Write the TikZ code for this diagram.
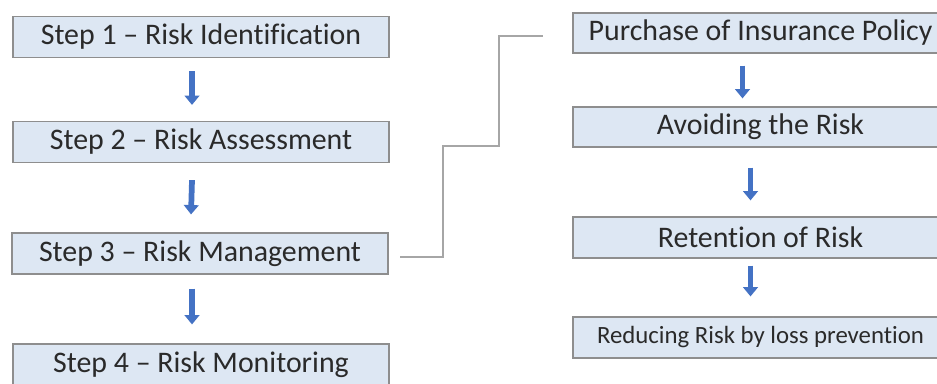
\documentclass[tikz,border=0pt]{standalone}
\usepackage{fontspec}
\setmainfont[Ligatures=NoCommon]{Carlito}
\usetikzlibrary{arrows.meta}
\definecolor{boxfill}{HTML}{DDE7F3}
\definecolor{boxline}{HTML}{8E8E8E}
\definecolor{txt}{HTML}{2A2A2A}
\definecolor{arrblue}{HTML}{4472C4}
\definecolor{connc}{HTML}{A6A6A6}
\begin{document}
\begin{tikzpicture}[x=0.75pt,y=-0.75pt,
  stepbox/.style={draw=boxline, line width=0.9pt, fill=boxfill, text=txt,
    minimum width=282pt, minimum height=30.75pt, inner sep=0pt,
    font=\fontsize{22.4}{26}\selectfont},
  smallbox/.style={stepbox, font=\fontsize{18.6}{22}\selectfont},
  blockarr/.style={draw=arrblue, line width=4.3pt,
    -{Triangle[width=11pt,length=7pt]}},
  conn/.style={draw=connc, line width=1.1pt}]
\useasboundingbox (0,0) rectangle (937,383);
\fill[white] (0,0) rectangle (937,383);
% left column
\node[stepbox] (s1) at (201,37) {Step 1 – Risk Identification};
\node[stepbox] (s2) at (201,142) {Step 2 – Risk Assessment};
\node[stepbox] (s3) at (200,253.5) {Step 3 – Risk Management};
\node[stepbox, minimum height=31.5pt] (s4) at (201,365) {Step 4 – Risk Monitoring};
% right column
\node[stepbox, minimum width=281.25pt, minimum height=30pt] (r1) at (760.5,33) {Purchase of Insurance Policy};
\node[stepbox, minimum width=281.25pt, minimum height=30pt] (r2) at (760.5,127) {Avoiding the Risk};
\node[stepbox, minimum width=281.25pt] (r3) at (760.5,237.5) {Retention of Risk};
\node[smallbox, minimum width=281.25pt] (r4) at (760.5,337.5) {Reducing Risk by loss prevention};
% left arrows
\draw[blockarr] ([xshift=-6.75pt,yshift=-9.75pt]s1.south) -- ([xshift=-6.75pt,yshift=12pt]s2.north);
\draw[blockarr] ([xshift=-6.75pt,yshift=-12.75pt]s2.south) -- ([xshift=-6.75pt,yshift=13.5pt]s3.north);
\draw[blockarr] ([xshift=-6pt,yshift=-10.5pt]s3.south) -- ([xshift=-6.75pt,yshift=14.25pt]s4.north);
% right arrows
\draw[blockarr] ([xshift=-13.5pt,yshift=-9pt]r1.south) -- ([xshift=-13.5pt,yshift=6pt]r2.north);
\draw[blockarr] ([xshift=-7.5pt,yshift=-15pt]r2.south) -- ([xshift=-7.5pt,yshift=12pt]r3.north);
\draw[blockarr] ([xshift=-7.5pt,yshift=-5.25pt]r3.south) -- ([xshift=-7.5pt,yshift=15pt]r4.north);
% connector
\coordinate (cstart) at (400,257);
\coordinate (cend) at (543,36);
\draw[conn] (cstart) -| (443,146) -- (499,146) |- (cend);
\end{tikzpicture}
\end{document}
